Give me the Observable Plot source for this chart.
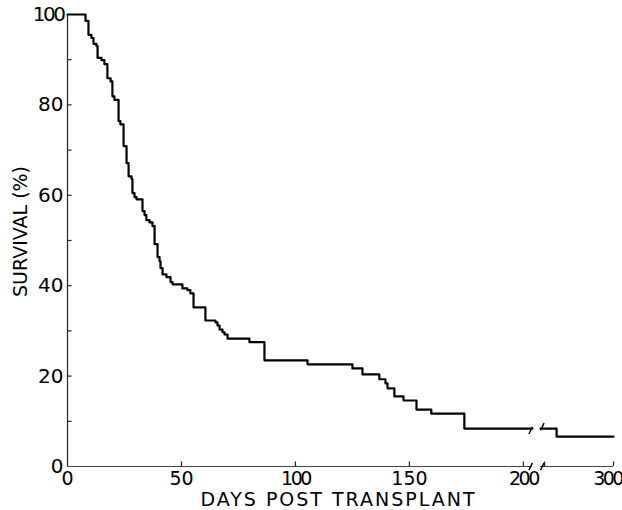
<!DOCTYPE html>
<html>
<head>
<meta charset="utf-8">
<script src="https://cdn.jsdelivr.net/npm/d3@7"></script>
<script src="https://cdn.jsdelivr.net/npm/@observablehq/plot@0.6"></script>
<style>
  html, body { margin: 0; padding: 0; background: #fff; }
  svg { font-family: "DejaVu Sans", sans-serif; }
</style>
</head>
<body>
<div id="chart"></div>
<script>
// Kaplan–Meier step events: day of drop and survival (%) after the drop
const eventDays = [7.9, 9.2, 10.5, 11.4, 12.7, 13.2, 14.9, 16.2, 17.5, 18.9, 19.7, 20.6,
  22.4, 23.2, 24.6, 25.9, 26.8, 28.1, 28.5, 29.4, 30.3, 32.9, 33.8, 34.6, 36.0, 37.3,
  38.2, 39.5, 40.4, 40.8, 41.7, 43.4, 45.2, 46.1, 50.4, 52.6, 53.9, 55.3, 60.5, 64.9,
  65.8, 66.7, 68.0, 68.9, 70.2, 79.8, 86.4, 105.3, 125.0, 129.4, 136.8, 139.5, 140.4,
  143.4, 147.4, 153.1, 159.6, 174.1, 258.7];
const eventSurvival = [98.6, 95.5, 94.8, 93.5, 93.0, 90.4, 89.9, 89.0, 85.9, 85.2, 81.9, 81.1,
  76.4, 75.7, 70.9, 67.1, 64.2, 63.6, 60.5, 59.6, 59.1, 56.5, 55.6, 54.5, 54.0, 53.2,
  49.2, 46.3, 45.4, 43.9, 42.5, 41.9, 40.8, 40.3, 39.4, 39.0, 38.3, 35.2, 32.3, 31.9,
  31.2, 30.3, 29.7, 29.2, 28.3, 27.5, 23.5, 22.6, 21.7, 20.4, 19.3, 18.4, 17.3,
  15.5, 14.6, 12.6, 11.7, 8.4, 6.6];
const startSurvival = 100;
const endDay = 300;
const axisBreak = [204, 247];           // broken x axis: from day 204 jump to day 247
const yLabels = [0, 20, 40, 60, 80, 100];
const yTicks = [10, 20, 30, 40, 50, 60, 70, 80, 90];
const xLabels = [0, 50, 100, 150, 200, 300];
const xTicks = [50, 100, 150, 200, 250, 300];
const xTitle = "DAYS POST TRANSPLANT";
const yTitle = "SURVIVAL (%)";

// build step curve, split at the axis break
const levelAt = d => {
  let s = startSurvival;
  eventDays.forEach((e, i) => { if (e <= d) s = eventSurvival[i]; });
  return s;
};
const pts = [{day: 0, s: startSurvival, seg: 1}];
eventDays.forEach((d, i) => {
  if (d <= axisBreak[0]) pts.push({day: d, s: eventSurvival[i], seg: 1});
});
pts.push({day: axisBreak[0], s: levelAt(axisBreak[0]), seg: 1});
pts.push({day: axisBreak[1], s: levelAt(axisBreak[1]), seg: 2});
eventDays.forEach((d, i) => {
  if (d >= axisBreak[1]) pts.push({day: d, s: eventSurvival[i], seg: 2});
});
pts.push({day: endDay, s: levelAt(endDay), seg: 2});

// short slanted break marks at both ends of the break, on the curve and on the axis
const breakMarks = [
  {a: axisBreak[0] - 1.6, b: axisBreak[0], s: levelAt(axisBreak[0]) - 1.2},
  {a: axisBreak[1], b: axisBreak[1] + 2.6, s: levelAt(axisBreak[1]) - 0.4},
  {a: axisBreak[0] - 1.6, b: axisBreak[0], s: -0.8},
  {a: axisBreak[1], b: axisBreak[1] + 2.6, s: -0.8}
];

const chart = Plot.plot({
  width: 622,
  height: 510,
  marginLeft: 67,
  marginRight: 9,
  marginTop: 14,
  marginBottom: 44,
  style: {fontFamily: "DejaVu Sans, sans-serif", color: "#000", background: "#fff"},
  x: {
    type: "linear",
    domain: [0, axisBreak[0], axisBreak[1], endDay],
    range: [67, 532, 540, 613]
  },
  y: {domain: [0, 100], range: [466, 14]},
  marks: [
    // axis lines
    Plot.ruleX([0], {y1: 0, y2: 100, stroke: "#222", strokeWidth: 1.2}),
    Plot.ruleY([0], {x1: 0, x2: axisBreak[0], stroke: "#444", strokeWidth: 1.1}),
    Plot.ruleY([0], {x1: axisBreak[1], x2: endDay, stroke: "#444", strokeWidth: 1.1}),
    // inward ticks
    Plot.ruleY(yTicks, {x1: 0, x2: 2, stroke: "#222", strokeWidth: 1.2}),
    Plot.ruleX(xTicks, {y1: 0, y2: 1, stroke: "#222", strokeWidth: 1.2}),
    // tick labels
    Plot.axisY({ticks: yLabels, tickSize: 0, tickPadding: 4, fontSize: 20, label: null}),
    Plot.axisX({ticks: xLabels, tickSize: 0, tickPadding: 5, fontSize: 19, label: null,
      tickFormat: d => String(d)}),
    // survival curve
    Plot.line(pts, {x: "day", y: "s", z: "seg", curve: "step-after",
      stroke: "#000", strokeWidth: 2.2}),
    // break marks
    Plot.link(breakMarks, {x1: "a", x2: "b", y1: "s", y2: d => d.s + 1.6,
      stroke: "#000", strokeWidth: 1.4}),
    // titles
    Plot.text([xTitle], {frameAnchor: "bottom", text: d => d, dy: 39, dx: -2,
      fontSize: 19, fill: "#000"}),
    Plot.text([yTitle], {frameAnchor: "left", textAnchor: "middle", text: d => d,
      rotate: -90, dx: -47, dy: -9, fontSize: 19, fill: "#000"})
  ]
});
// typographic tweaks: tighter "00" numerals, tracked x title, last label nudged in
d3.select(chart).selectAll("text")
  .filter(function() { return /00$/.test(this.textContent) && this.textContent !== xTitle; })
  .attr("letter-spacing", "-2.5px");
d3.select(chart).selectAll("text")
  .filter(function() { return this.textContent === String(endDay); })
  .attr("dx", -6);
d3.select(chart).selectAll("text")
  .filter(function() { return this.textContent === xTitle; })
  .attr("letter-spacing", "2px");
document.getElementById("chart").appendChild(chart);
</script>
</body>
</html>
